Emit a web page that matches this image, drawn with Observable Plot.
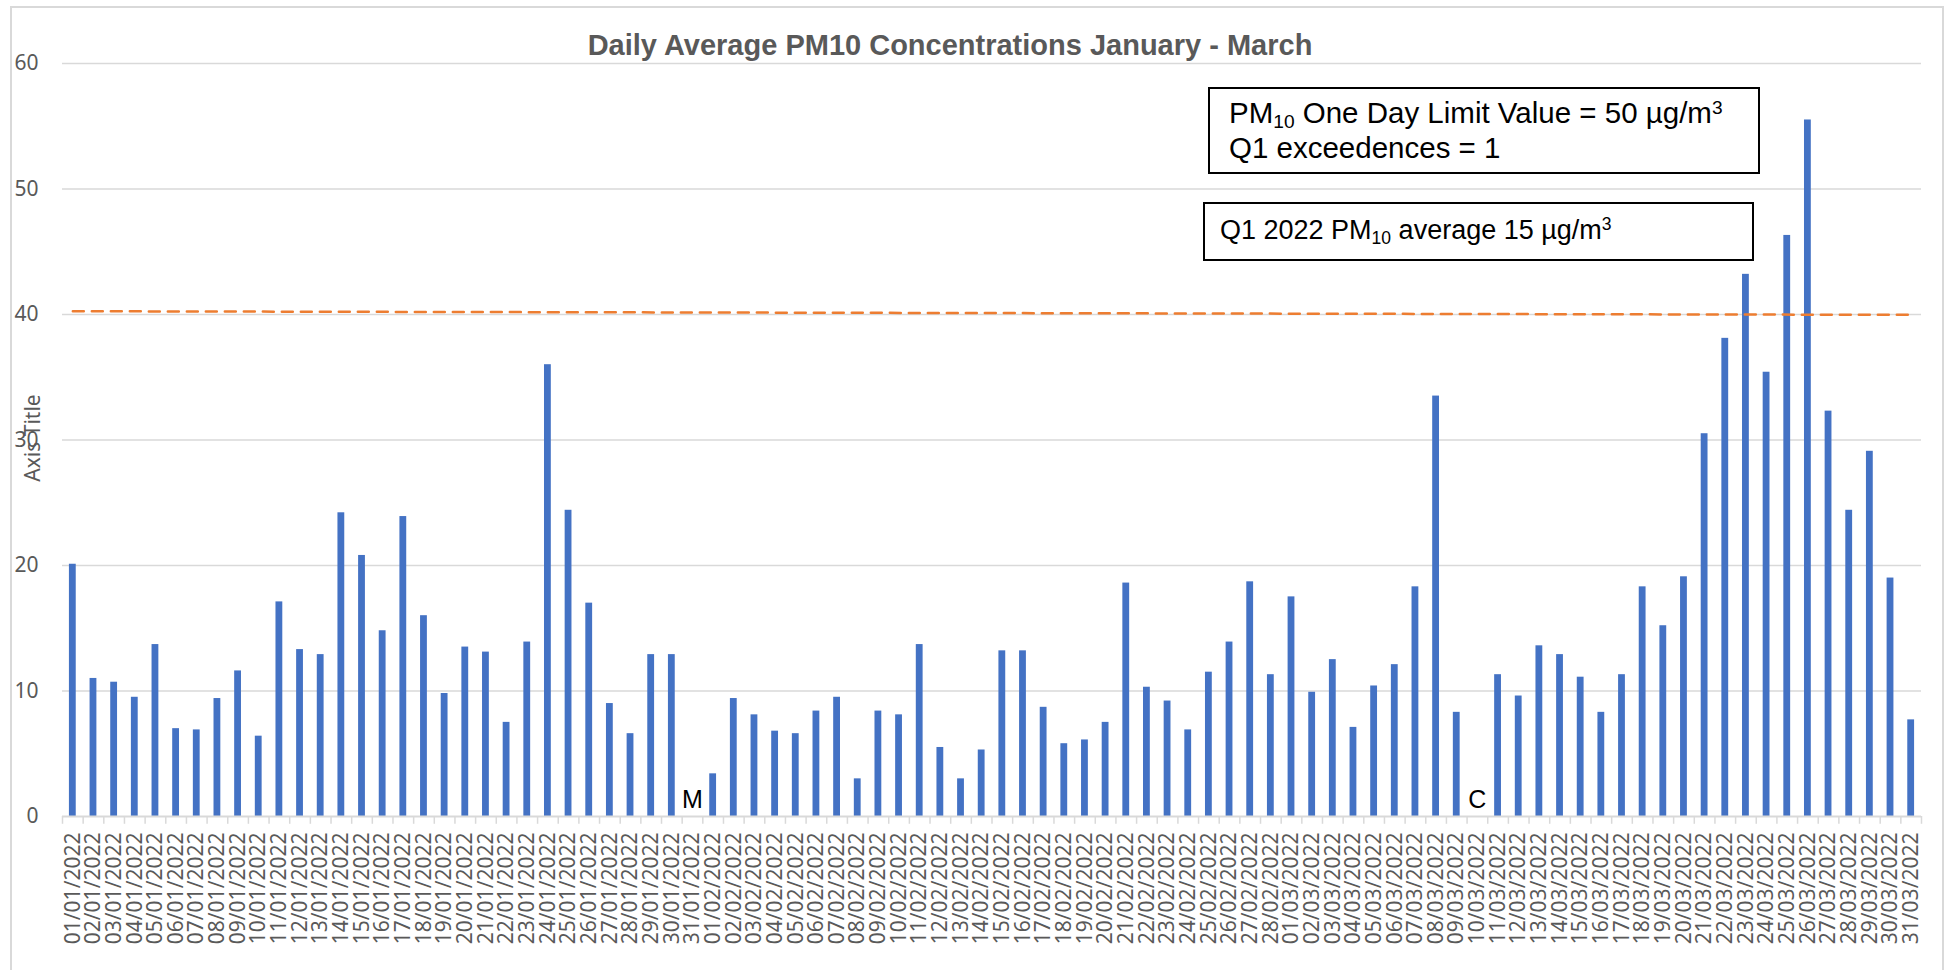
<!DOCTYPE html>
<html>
<head>
<meta charset="utf-8">
<script src="https://cdn.jsdelivr.net/npm/d3@7"></script>
<script src="https://cdn.jsdelivr.net/npm/@observablehq/plot@0.6"></script>
<style>
  html, body { margin: 0; padding: 0; background: #fff; overflow: hidden; }
  #wrap { position: relative; width: 1950px; height: 970px; overflow: hidden; }
  #chart { position: absolute; left: 0; top: 0; }
  #frame { position: absolute; left: 10px; top: 6px; width: 1930px; height: 1000px; border: 2px solid #d9d9d9; border-bottom: none; }
  #title { position: absolute; left: 950px; top: 31px; transform: translateX(-50%); white-space: nowrap;
           font: bold 29px "Liberation Sans", Arial, sans-serif; line-height: 29px; color: #595959; }
  .box { position: absolute; border: 2px solid #000; background: #fff; box-sizing: border-box;
         font-family: "Liberation Sans", Arial, sans-serif; color: #000; white-space: nowrap; }
  .box .ln { position: absolute; left: 0; line-height: 1; }
  .box sub, .box sup { font-size: 0.65em; line-height: 0; position: relative; vertical-align: baseline; }
  .box sub { top: 5px; }
  .box sup { top: -9px; }
</style>
</head>
<body>
<div id="wrap">
  <div id="frame"></div>
  <div id="chart"></div>
  <div id="title">Daily Average PM10 Concentrations January - March</div>
  <div class="box" style="left:1208px; top:87px; width:552px; height:87px; font-size:29.5px;">
    <div class="ln" style="left:19px; top:9px;">PM<sub>10</sub> One Day Limit Value = 50 µg/m<sup>3</sup></div>
    <div class="ln" style="left:19px; top:44px;">Q1 exceedences = 1</div>
  </div>
  <div class="box" style="left:1203px; top:202px; width:551px; height:59px; font-size:27px;">
    <div class="ln" style="left:15px; top:13px;">Q1 2022 PM<sub>10</sub> average 15 µg/m<sup>3</sup></div>
  </div>
</div>
<script>
// ---- data ----
const janDates = ["01/01/2022","02/01/2022","03/01/2022","04/01/2022","05/01/2022","06/01/2022","07/01/2022","08/01/2022","09/01/2022","10/01/2022","11/01/2022","12/01/2022","13/01/2022","14/01/2022","15/01/2022","16/01/2022","17/01/2022","18/01/2022","19/01/2022","20/01/2022","21/01/2022","22/01/2022","23/01/2022","24/01/2022","25/01/2022","26/01/2022","27/01/2022","28/01/2022","29/01/2022","30/01/2022","31/01/2022"];
const febDates = ["01/02/2022","02/02/2022","03/02/2022","04/02/2022","05/02/2022","06/02/2022","07/02/2022","08/02/2022","09/02/2022","10/02/2022","11/02/2022","12/02/2022","13/02/2022","14/02/2022","15/02/2022","16/02/2022","17/02/2022","18/02/2022","19/02/2022","20/02/2022","21/02/2022","22/02/2022","23/02/2022","24/02/2022","25/02/2022","26/02/2022","27/02/2022","28/02/2022"];
const marDates = ["01/03/2022","02/03/2022","03/03/2022","04/03/2022","05/03/2022","06/03/2022","07/03/2022","08/03/2022","09/03/2022","10/03/2022","11/03/2022","12/03/2022","13/03/2022","14/03/2022","15/03/2022","16/03/2022","17/03/2022","18/03/2022","19/03/2022","20/03/2022","21/03/2022","22/03/2022","23/03/2022","24/03/2022","25/03/2022","26/03/2022","27/03/2022","28/03/2022","29/03/2022","30/03/2022","31/03/2022"];

const janValues = [20.1, 11.0, 10.7, 9.5, 13.7, 7.0, 6.9, 9.4, 11.6, 6.4, 17.1, 13.3, 12.9, 24.2, 20.8, 14.8, 23.9, 16.0, 9.8, 13.5, 13.1, 7.5, 13.9, 36.0, 24.4, 17.0, 9.0, 6.6, 12.9, 12.9, null];
const febValues = [3.4, 9.4, 8.1, 6.8, 6.6, 8.4, 9.5, 3.0, 8.4, 8.1, 13.7, 5.5, 3.0, 5.3, 13.2, 13.2, 8.7, 5.8, 6.1, 7.5, 18.6, 10.3, 9.2, 6.9, 11.5, 13.9, 18.7, 11.3];
const marValues = [17.5, 9.9, 12.5, 7.1, 10.4, 12.1, 18.3, 33.5, 8.3, null, 11.3, 9.6, 13.6, 12.9, 11.1, 8.3, 11.3, 18.3, 15.2, 19.1, 30.5, 38.1, 43.2, 35.4, 46.3, 55.5, 32.3, 24.4, 29.1, 19.0, 7.7];

const yTicks = [0, 10, 20, 30, 40, 50, 60];
const notes = [{date: "31/01/2022", label: "M"}, {date: "10/03/2022", label: "C"}];
const refLine = [{date: "01/01/2022", v: 40.26}, {date: "31/03/2022", v: 39.97}];
const yTitle = ["Axis Title"];

// ---- build ----
const dates = [...janDates, ...febDates, ...marDates];
const values = [...janValues, ...febValues, ...marValues];
const data = dates.map((d, i) => ({date: d, value: values[i]}));

const W = 1950, H = 970, ML = 62, MR = 29, MT = 63, MB = 154;
const step = (W - ML - MR) / dates.length;

const chart = Plot.plot({
  width: W, height: H,
  marginLeft: ML, marginRight: MR, marginTop: MT, marginBottom: MB,
  style: {fontFamily: "'Noto Sans', sans-serif", fontSize: "21px", color: "#595959", background: "transparent", overflow: "visible"},
  x: {domain: dates, paddingInner: 0.67, paddingOuter: 0.335, label: null},
  y: {domain: [0, 60], label: null},
  marks: [
    Plot.gridY(yTicks.slice(1), {stroke: "#d9d9d9", strokeOpacity: 1, strokeWidth: 1.5}),
    Plot.axisY({ticks: yTicks, tickSize: 0, tickPadding: 24, label: null, fontSize: 21}),
    Plot.axisX({tickRotate: -90, tickSize: 0, tickPadding: 16, label: null, fontSize: 21}),
    Plot.barY(data.filter(d => d.value != null), {x: "date", y: "value", fill: "#4472C4"}),
    Plot.line(refLine, {x: "date", y: "v", stroke: "#ED7D31", strokeWidth: 2.5, strokeDasharray: "11,8"}),
    Plot.ruleY([0], {stroke: "#d9d9d9", strokeWidth: 2}),
    Plot.ruleX(dates, {x: d => d, y1: 0, y2: -0.62, dx: -step / 2, stroke: "#d9d9d9", strokeWidth: 1.5}),
    Plot.ruleX([dates[dates.length - 1]], {x: d => d, y1: 0, y2: -0.62, dx: step / 2, stroke: "#d9d9d9", strokeWidth: 1.5}),
    Plot.text(notes, {x: "date", y: 0, text: "label", lineAnchor: "bottom", dy: -9, fontSize: 25, fill: "#000", fontFamily: "'Liberation Sans', Arial, sans-serif"}),
    Plot.text(yTitle, {text: d => d, frameAnchor: "left", rotate: -90, dx: -29, dy: -2, textAnchor: "middle", lineAnchor: "middle", fontSize: 21, fill: "#595959"})
  ]
});
document.getElementById("chart").appendChild(chart);
</script>
</body>
</html>
